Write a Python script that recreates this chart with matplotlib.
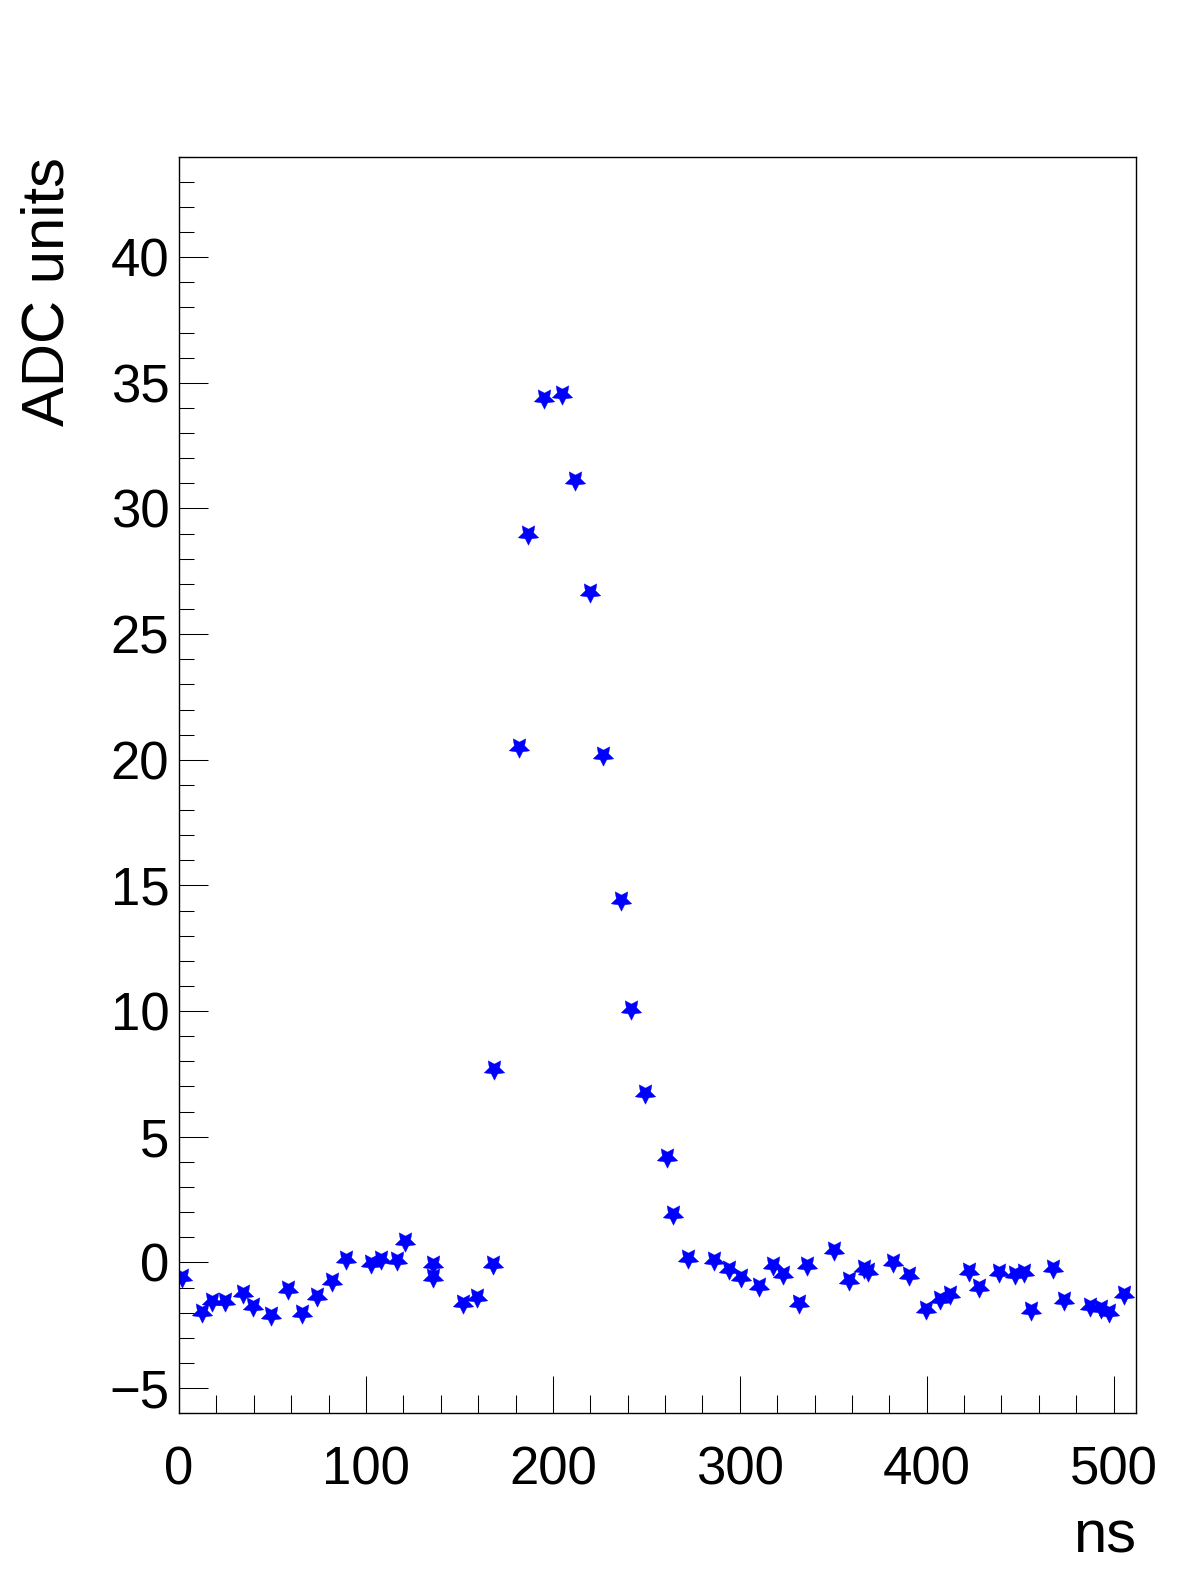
"""ADC waveform samples (ROOT-style TGraph with star markers)."""

import matplotlib

matplotlib.use("Agg")
import matplotlib.pyplot as plt
from matplotlib.ticker import MultipleLocator

plt.rcParams["font.family"] = ["Liberation Sans", "DejaVu Sans"]

# sample times (ns) and amplitudes (ADC units)
time_ns = [
    1.4, 12.5, 17.5, 24.6, 34.4, 39.8, 49.2, 58.2, 65.8, 73.7,
    81.7, 89.2, 102.8, 108.1, 116.5, 120.9, 136.1, 135.8, 151.8, 159.3,
    167.9, 168.6, 182.0, 186.6, 195.3, 204.8, 211.9, 220.0, 226.9, 236.5,
    241.9, 249.4, 261.2, 264.5, 272.2, 286.3, 294.0, 300.6, 310.4, 317.7,
    323.1, 331.8, 335.9, 350.2, 358.6, 366.6, 368.4, 381.7, 390.3, 399.6,
    406.9, 412.6, 422.8, 428.1, 438.5, 447.0, 452.2, 456.0, 467.6, 473.6,
    487.5, 493.3, 497.3, 505.7,
]
adc = [
    -0.56, -1.98, -1.52, -1.52, -1.23, -1.72, -2.11, -1.05, -2.02, -1.35,
    -0.72, 0.14, -0.03, 0.14, 0.08, 0.87, -0.06, -0.56, -1.62, -1.36,
    -0.06, 7.70, 20.50, 28.97, 34.41, 34.54, 31.14, 26.67, 20.17, 14.43,
    10.09, 6.73, 4.21, 1.91, 0.18, 0.10, -0.25, -0.59, -0.92, -0.12,
    -0.48, -1.62, -0.12, 0.51, -0.68, -0.21, -0.35, 0.01, -0.52, -1.85,
    -1.45, -1.25, -0.35, -0.96, -0.39, -0.45, -0.39, -1.89, -0.21, -1.49,
    -1.75, -1.81, -1.98, -1.25,
]

X_RANGE = (0, 512)
Y_RANGE = (-6, 44)
X_LABEL = "ns"
Y_LABEL = "ADC units"

fig = plt.figure(figsize=(11.96, 15.72), dpi=100)
ax = fig.add_axes([0.1497, 0.1010, 0.8002, 0.7994])

ax.plot(time_ns, adc, linestyle="none", marker=(5, 1, 180), markersize=15.5,
        color="#0000ff", markeredgewidth=0.3)

ax.set_xlim(*X_RANGE)
ax.set_ylim(*Y_RANGE)

ax.xaxis.set_major_locator(MultipleLocator(100))
ax.xaxis.set_minor_locator(MultipleLocator(20))
ax.yaxis.set_major_locator(MultipleLocator(5))
ax.yaxis.set_minor_locator(MultipleLocator(1))

for spine in ax.spines.values():
    spine.set_linewidth(1.0)

ax.tick_params(axis="both", which="both", direction="in", top=False, right=False,
               width=0.75, labelsize=38)
ax.tick_params(axis="x", which="major", length=26.6, pad=23.5)
ax.tick_params(axis="x", which="minor", length=13.2)
ax.tick_params(axis="y", which="major", length=20.9, pad=7)
ax.tick_params(axis="y", which="minor", length=10.6)

fig.text(0.9498, 0.0121, X_LABEL, ha="right", va="baseline", fontsize=43)
fig.text(0.0635, 0.9003, Y_LABEL, ha="right", va="top", rotation=90, fontsize=43)

fig.savefig("out.png", dpi=100)
